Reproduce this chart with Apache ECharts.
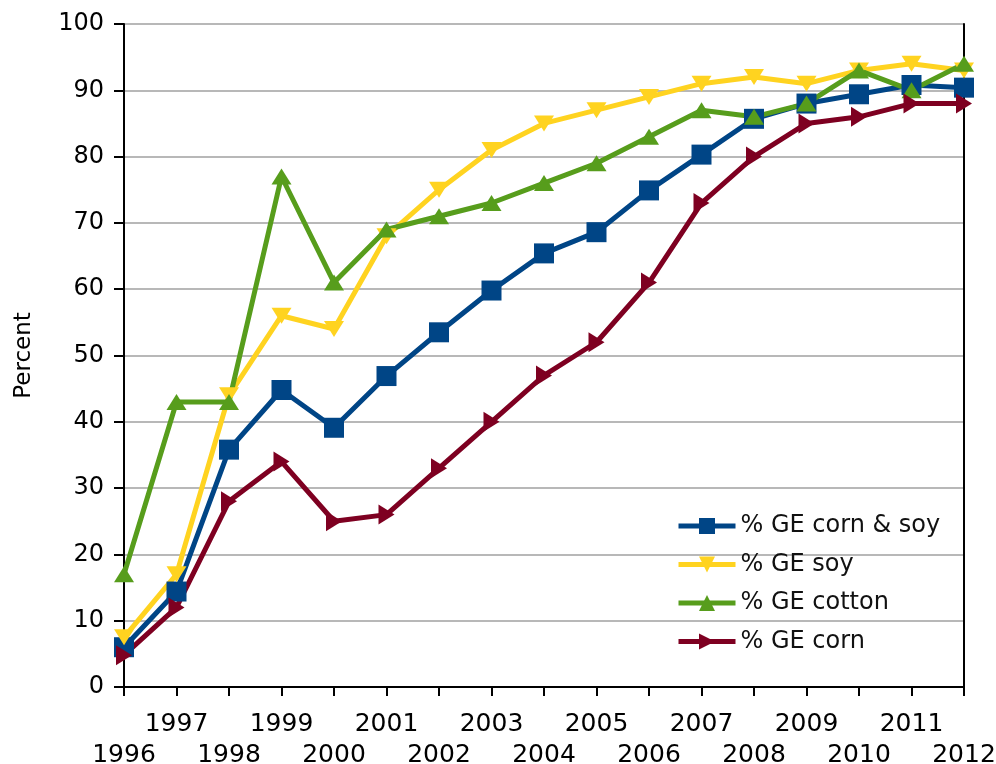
<!DOCTYPE html>
<html>
<head>
<meta charset="utf-8">
<script src="https://cdn.jsdelivr.net/npm/echarts@6/dist/echarts.min.js"></script>
<style>
html,body{margin:0;padding:0;background:#fff;}
#chart{width:996px;height:764px;}
</style>
</head>
<body>
<div id="chart"></div>
<script>
const years = ['1996','1997','1998','1999','2000','2001','2002','2003','2004','2005','2006','2007','2008','2009','2010','2011','2012'];
const cornSoy = [6.0, 14.4, 35.8, 44.8, 39.1, 46.9, 53.5, 59.8, 65.4, 68.6, 74.9, 80.3, 85.7, 88.0, 89.4, 90.8, 90.4];
const soy = [7.5, 17, 44, 56, 54, 68, 75, 81, 85, 87, 89, 91, 92, 91, 93, 94, 93];
const cotton = [17, 43, 43, 77, 61, 69, 71, 73, 76, 79, 83, 87, 86, 88, 93, 90, 94];
const corn = [4.8, 12, 28, 34, 25, 26, 33, 40, 47, 52, 61, 73, 80, 85, 86, 88, 88];
const yTicks = {min: 0, max: 100, interval: 10};
const seriesNames = ['% GE corn & soy', '% GE soy', '% GE cotton', '% GE corn'];

const FONT = 'DejaVu Sans';
const chart = echarts.init(document.getElementById('chart'));
function mk(name, data, color, symbol, size, rot) {
  return {
    name: name, type: 'line', data: data,
    symbol: symbol, symbolSize: size, symbolRotate: rot,
    lineStyle: {color: color, width: 5},
    itemStyle: {color: color},
    animation: false
  };
}
chart.setOption({
  animation: false,
  textStyle: {fontFamily: FONT, color: '#000'},
  grid: {left: 124, right: 32, top: 24, bottom: 77, containLabel: false, outerBoundsMode: 'none'},
  legend: {
    orient: 'vertical', left: 676, top: 514, padding: 0,
    itemWidth: 57, itemHeight: 20, itemGap: 14.5,
    lineStyle: {width: 5},
    textStyle: {fontFamily: FONT, fontSize: 24, color: '#111', lineHeight: 24},
    data: seriesNames
  },
  xAxis: {
    type: 'category', data: years, boundaryGap: false,
    axisLine: {lineStyle: {color: '#000', width: 2}},
    axisTick: {show: true, length: 9, interval: 0, lineStyle: {color: '#000', width: 2}},
    axisLabel: {
      interval: 0, margin: 22, fontSize: 25, lineHeight: 31, color: '#000', fontFamily: FONT,
      hideOverlap: false,
      formatter: function (v, i) { return (parseInt(v) % 2 === 1) ? v + '\n ' : ' \n' + v; }
    },
    splitLine: {show: false}
  },
  yAxis: [{
    type: 'value', min: yTicks.min, max: yTicks.max, interval: yTicks.interval,
    name: 'Percent', nameLocation: 'middle', nameGap: 88,
    nameTextStyle: {fontSize: 23, fontFamily: FONT, color: '#000'},
    axisLine: {show: true, lineStyle: {color: '#000', width: 2}},
    axisTick: {show: true, length: 10, lineStyle: {color: '#000', width: 2}},
    axisLabel: {margin: 20, fontSize: 24, color: '#000', fontFamily: FONT},
    splitLine: {show: true, lineStyle: {color: '#b8b8b8', width: 2}}
  }, {
    type: 'value', min: yTicks.min, max: yTicks.max, interval: yTicks.interval, position: 'right',
    axisLine: {show: true, lineStyle: {color: '#000', width: 2}},
    axisTick: {show: false}, axisLabel: {show: false}, splitLine: {show: false}
  }],
  series: [
    mk(seriesNames[0], cornSoy, '#004586', 'rect', 20, 0),
    mk(seriesNames[1], soy, '#ffd320', 'triangle', [20, 16], 180),
    mk(seriesNames[2], cotton, '#579d1c', 'triangle', [20, 16], 0),
    mk(seriesNames[3], corn, '#7e0021', 'triangle', [20, 16], -90)
  ]
});
</script>
</body>
</html>
